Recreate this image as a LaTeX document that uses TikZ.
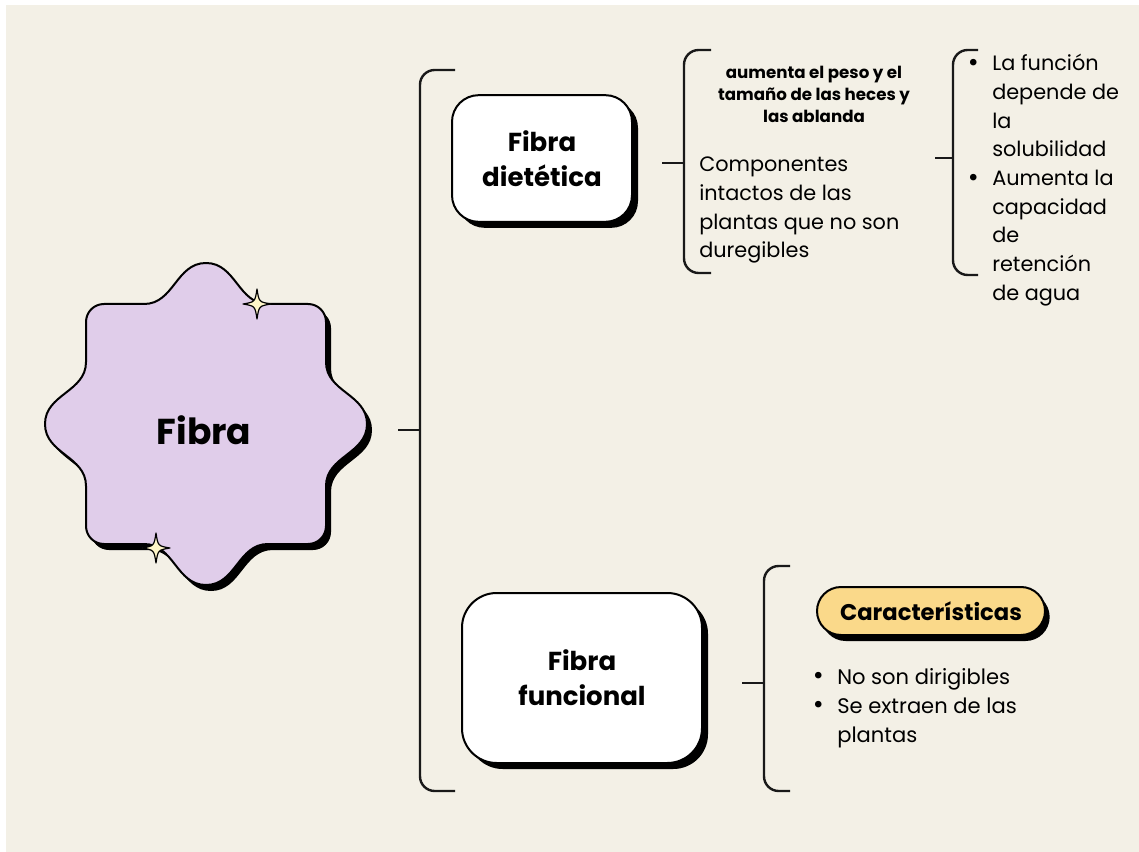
\documentclass[tikz,border=0pt]{standalone}
\usepackage{fontspec}
\setmainfont{Poppins}
\usetikzlibrary{shadows}
\definecolor{bgc}{HTML}{F3F0E6}
\definecolor{purp}{HTML}{E0CDEA}
\definecolor{yel}{HTML}{FAD98A}
\definecolor{spk}{HTML}{FFF6C8}
\newcommand{\bul}{\leavevmode\llap{\fontsize{20pt}{20pt}\selectfont\raisebox{-0.5pt}{•}\hspace{10pt}}}
\tikzset{
  fibrastar/.pic={
    \path[pic actions] (0,-161)
      .. controls (30,-161) and (32,-120) .. (62,-120)
      -- (102,-120)
      .. controls (112,-120) and (120,-112) .. (120,-102)
      -- (120,-62)
      .. controls (120,-32) and (161,-30) .. (161,0)
      .. controls (161,30) and (120,32) .. (120,62)
      -- (120,102)
      .. controls (120,112) and (112,120) .. (102,120)
      -- (62,120)
      .. controls (32,120) and (30,161) .. (0,161)
      .. controls (-30,161) and (-32,120) .. (-62,120)
      -- (-102,120)
      .. controls (-112,120) and (-120,112) .. (-120,102)
      -- (-120,62)
      .. controls (-120,32) and (-161,30) .. (-161,0)
      .. controls (-161,-30) and (-120,-32) .. (-120,-62)
      -- (-120,-102)
      .. controls (-120,-112) and (-112,-120) .. (-102,-120)
      -- (-62,-120)
      .. controls (-32,-120) and (-30,-161) .. (0,-161) -- cycle;
  },
  sparkle/.pic={
    \path[pic actions] (0,-15) .. controls (2,-2) .. (14,0) .. controls (2,2) .. (0,15)
      .. controls (-2,2) .. (-14,0) .. controls (-2,-2) .. (0,-15) -- cycle;
  }
}
\begin{document}
\begin{tikzpicture}[x=0.75pt,y=-0.75pt,
  brk/.style={draw=black!90, line width=1.8pt, rounded corners=11pt},
  tick/.style={draw=black!90, line width=1.8pt},
  boxnode/.style={draw=black, line width=1.5pt, fill=white, align=center,
     font=\bfseries\fontsize{19.5pt}{26.25pt}\selectfont,
     drop shadow={shadow xshift=4.5pt, shadow yshift=-4.5pt, fill=black, opacity=1}},
  pill/.style={draw=black, line width=1.5pt, fill=yel, rounded corners=18pt,
     minimum width=171pt, minimum height=36pt, inner sep=0pt,
     font=\bfseries\fontsize{17pt}{18pt}\selectfont,
     drop shadow={shadow xshift=3.5pt, shadow yshift=-4.5pt, fill=black, opacity=1}},
  txt/.style={inner sep=0pt},
  spark/.style={draw=black, line width=0.9pt, fill=spk, line join=round}
]
\useasboundingbox (0,0) rectangle (1139,852);
\fill[white] (0,0) rectangle (1139,852);
\fill[bgc] (6,5) rectangle (1139,852);

% central wavy star
\pic[fill=black] at (211,430) {fibrastar};
\pic[draw=black, fill=purp, line width=1.5pt, line join=round] at (206,424) {fibrastar};
\node[txt, font=\bfseries\fontsize{27pt}{30pt}\selectfont] (fibra) at (204,430) {Fibra};

% sparkles
\pic[spark] at (257,304) {sparkle};
\pic[spark] at (156,548) {sparkle};

% main bracket
\coordinate (m0) at (398,430);
\coordinate (m1) at (420,430);
\coordinate (mT) at (455,70);
\coordinate (mTL) at (420,70);
\coordinate (mBL) at (420,791);
\coordinate (mB) at (455,791);
\draw[brk] (mT) -- (mTL) -- (mBL) -- (mB);
\draw[tick] (m0) -- (m1);

% Fibra dietetica
\node[boxnode, rounded corners=20pt, minimum width=135pt, minimum height=95pt] (dieta) at (542,158.5) {Fibra\\dietética};

% bracket 2
\coordinate (a0) at (662,163);
\coordinate (a1) at (684,163);
\coordinate (aT) at (711,50);
\coordinate (aTL) at (684,50);
\coordinate (aBL) at (684,273);
\coordinate (aB) at (711,273);
\draw[brk] (aT) -- (aTL) -- (aBL) -- (aB);
\draw[tick] (a0) -- (a1);

\node[txt, anchor=base] (aum) at (814,79) {\parbox[t]{220pt}{\centering\bfseries\fontsize{12.5pt}{16.5pt}\selectfont aumenta el peso y el\\tamaño de las heces y\\las ablanda}};
\node[txt, anchor=base west] (comp) at (699,172) {\parbox[t]{200pt}{\fontsize{15.6pt}{21.5pt}\selectfont Componentes\\intactos de las\\plantas que no son\\duregibles}};

% bracket 3
\coordinate (b0) at (935,158);
\coordinate (b1) at (953,158);
\coordinate (bT) at (978,50);
\coordinate (bTL) at (953,50);
\coordinate (bBL) at (953,275);
\coordinate (bB) at (978,275);
\draw[brk] (bT) -- (bTL) -- (bBL) -- (bB);
\draw[tick] (b0) -- (b1);

\node[txt, anchor=base west] (func) at (992,71) {\parbox[t]{140pt}{\fontsize{15.6pt}{21.5pt}\selectfont \bul La función\\depende de\\la\\solubilidad\\\bul Aumenta la\\capacidad\\de\\retención\\de agua}};

% Fibra funcional
\node[boxnode, rounded corners=26pt, minimum width=180pt, minimum height=127.5pt] (funcional) at (582,678) {Fibra\\funcional};

% bracket 4
\coordinate (c0) at (742,683);
\coordinate (c1) at (764,683);
\coordinate (cT) at (790,566);
\coordinate (cTL) at (764,566);
\coordinate (cBL) at (764,791);
\coordinate (cB) at (790,791);
\draw[brk] (cT) -- (cTL) -- (cBL) -- (cB);
\draw[tick] (c0) -- (c1);

\node[pill] (carac) at (931,611) {Características};

\node[txt, anchor=base west] (lista) at (837,684) {\parbox[t]{200pt}{\fontsize{15.8pt}{21.75pt}\selectfont \bul No son dirigibles\\\bul Se extraen de las\\plantas}};
\end{tikzpicture}
\end{document}
